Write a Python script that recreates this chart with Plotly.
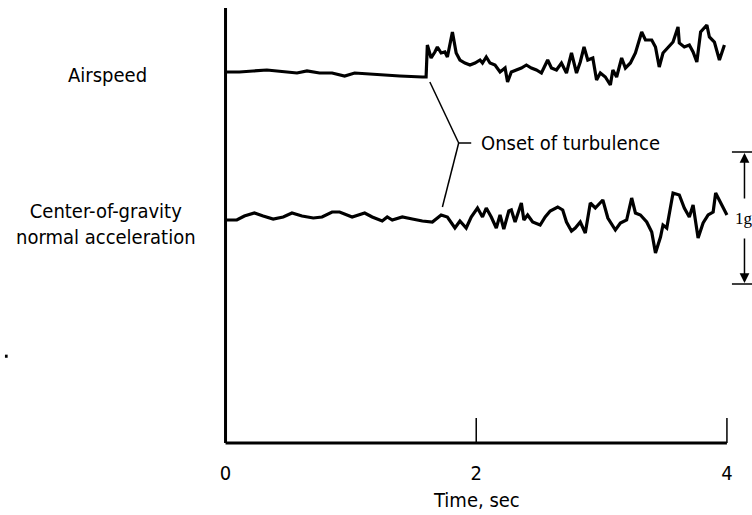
import plotly.graph_objects as go

# ---- data ----
time_ticks = [0, 2, 4]
tick_labels = ["0", "2", "4"]

airspeed_t = [0.00, 0.11, 0.22, 0.33, 0.49, 0.57, 0.65, 0.75, 0.85, 0.95,
              1.03, 1.13, 1.23, 1.39, 1.57, 1.60, 1.61, 1.64, 1.67, 1.69,
              1.72, 1.75, 1.77, 1.81, 1.84, 1.87, 1.91, 1.95, 1.99, 2.03,
              2.05, 2.08, 2.11, 2.15, 2.19, 2.23, 2.25, 2.28, 2.32, 2.36,
              2.40, 2.44, 2.48, 2.52, 2.57, 2.60, 2.64, 2.68, 2.72, 2.76,
              2.80, 2.83, 2.86, 2.89, 2.93, 2.96, 2.99, 3.03, 3.07, 3.09,
              3.12, 3.16, 3.19, 3.23, 3.27, 3.32, 3.35, 3.40, 3.43, 3.46,
              3.49, 3.53, 3.57, 3.61, 3.62, 3.66, 3.70, 3.73, 3.76, 3.79,
              3.84, 3.86, 3.90, 3.94, 3.98]
airspeed_v = [371, 371, 372, 373, 371, 370, 372, 370, 370, 367,
              370, 369, 368, 367, 366, 366, 398, 385, 391, 396,
              390, 391, 386, 411, 390, 383, 380, 378, 380, 383,
              380, 386, 380, 378, 371, 375, 361, 371, 373, 375,
              378, 375, 373, 370, 383, 375, 373, 380, 370, 390,
              370, 381, 396, 383, 385, 363, 370, 366, 358, 373,
              366, 385, 375, 380, 390, 411, 403, 403, 396, 376,
              390, 395, 401, 416, 400, 396, 398, 391, 381, 411,
              418, 406, 401, 383, 398]

cg_t = [0.00, 0.09, 0.15, 0.23, 0.30, 0.38, 0.46, 0.53, 0.61, 0.70,
        0.77, 0.85, 0.91, 1.01, 1.11, 1.17, 1.25, 1.29, 1.33, 1.41,
        1.49, 1.57, 1.65, 1.72, 1.77, 1.83, 1.87, 1.92, 1.96, 2.01,
        2.05, 2.08, 2.12, 2.16, 2.19, 2.22, 2.26, 2.28, 2.31, 2.36,
        2.38, 2.41, 2.45, 2.51, 2.55, 2.59, 2.65, 2.69, 2.72, 2.76,
        2.79, 2.83, 2.87, 2.91, 2.95, 3.01, 3.05, 3.11, 3.15, 3.20,
        3.24, 3.27, 3.31, 3.36, 3.40, 3.43, 3.47, 3.49, 3.52, 3.57,
        3.62, 3.66, 3.70, 3.73, 3.77, 3.81, 3.85, 3.89, 3.91, 3.93,
        4.00]
cg_v = [223, 223, 227, 230, 227, 224, 226, 230, 227, 225,
        226, 231, 231, 226, 230, 226, 222, 226, 223, 226,
        224, 222, 221, 228, 226, 215, 222, 215, 226, 235,
        226, 235, 226, 215, 228, 214, 232, 233, 221, 240,
        223, 228, 221, 218, 226, 232, 236, 233, 221, 212,
        215, 221, 210, 240, 235, 243, 225, 213, 220, 223,
        245, 230, 228, 221, 211, 190, 206, 218, 215, 250,
        248, 235, 226, 238, 205, 220, 228, 231, 250, 245,
        228]

one_g_top = 291
one_g_bottom = 159

FONT = "DejaVu Sans Condensed, Liberation Sans Narrow, DejaVu Sans, sans-serif"
BLACK = "#000000"
FS = 20

fig = go.Figure()
fig.add_trace(go.Scatter(x=airspeed_t, y=airspeed_v, mode="lines",
                         line=dict(color=BLACK, width=3.2), hoverinfo="skip"))
fig.add_trace(go.Scatter(x=cg_t, y=cg_v, mode="lines",
                         line=dict(color=BLACK, width=3.2), hoverinfo="skip"))

shapes = []
# axes
shapes.append(dict(type="line", xref="x", yref="y", x0=0, x1=0, y0=0, y1=435,
                   line=dict(color=BLACK, width=3)))
shapes.append(dict(type="line", xref="x", yref="y", x0=0, x1=4, y0=0, y1=0,
                   line=dict(color=BLACK, width=3)))
for tv in time_ticks[1:]:
    shapes.append(dict(type="line", xref="x", yref="y", x0=tv, x1=tv, y0=0, y1=25,
                       line=dict(color=BLACK, width=1.5)))
# onset bracket
shapes.append(dict(type="line", xref="x", yref="y", x0=1.63, y0=361, x1=1.86, y1=300,
                   line=dict(color=BLACK, width=1.5)))
shapes.append(dict(type="line", xref="x", yref="y", x0=1.73, y0=236, x1=1.86, y1=300,
                   line=dict(color=BLACK, width=1.5)))
shapes.append(dict(type="line", xref="x", yref="y", x0=1.86, y0=300, x1=1.96, y1=300,
                   line=dict(color=BLACK, width=1.5)))
# 1g scale bars
for yv in (one_g_top, one_g_bottom):
    shapes.append(dict(type="line", xref="x", yref="y", x0=4.04, x1=4.2, y0=yv, y1=yv,
                       line=dict(color=BLACK, width=1.5)))
# stray dot
shapes.append(dict(type="rect", xref="paper", yref="paper", x0=-0.386, x1=-0.381,
                   y0=0.214, y1=0.221, line=dict(width=0), fillcolor=BLACK))

annotations = [
    dict(x=-0.195, y=0.849, xref="paper", yref="paper", text="Airspeed", showarrow=False,
         font=dict(family=FONT, size=FS, color=BLACK), xanchor="center", yanchor="middle"),
    dict(x=-0.1985, y=0.5135, xref="paper", yref="paper",
         text="Center-of-gravity<br>normal acceleration",
         showarrow=False, font=dict(family=FONT, size=FS, color=BLACK),
         xanchor="center", yanchor="middle", align="center"),
    dict(x=2.02, y=300, xref="x", yref="y", text="Onset of turbulence", showarrow=False,
         font=dict(family=FONT, size=FS, color=BLACK), xanchor="left", yanchor="middle"),
    dict(x=2, y=-0.106, xref="x", yref="paper", text="Time, sec", showarrow=False,
         font=dict(family=FONT, size=FS, color=BLACK), xanchor="center", yanchor="middle"),
    dict(x=4.045, y=225, xref="x", yref="y", text="1g", showarrow=False,
         font=dict(family="Liberation Serif, serif", size=17, color=BLACK),
         xanchor="left", yanchor="middle"),
    # 1g arrows
    dict(x=4.14, y=one_g_top - 1, ax=4.14, ay=243, xref="x", yref="y", axref="x", ayref="y",
         text="", showarrow=True, arrowhead=2, arrowsize=1.3, arrowwidth=1.5, arrowcolor=BLACK),
    dict(x=4.14, y=one_g_bottom + 1, ax=4.14, ay=206, xref="x", yref="y", axref="x", ayref="y",
         text="", showarrow=True, arrowhead=2, arrowsize=1.3, arrowwidth=1.5, arrowcolor=BLACK),
]

fig.update_layout(
    width=752, height=515,
    margin=dict(l=213, r=0, t=8, b=62),
    paper_bgcolor="white", plot_bgcolor="white",
    showlegend=False,
    shapes=shapes, annotations=annotations,
    xaxis=dict(range=[-0.1, 4.2], tickvals=time_ticks, ticktext=tick_labels,
               ticks="", showgrid=False, zeroline=False, showline=False,
               tickfont=dict(family=FONT, size=FS, color=BLACK),
               ticklabelstandoff=6),
    yaxis=dict(range=[-10, 435], showticklabels=False, ticks="", showgrid=False,
               zeroline=False, showline=False),
)

fig.write_html("out.html")
